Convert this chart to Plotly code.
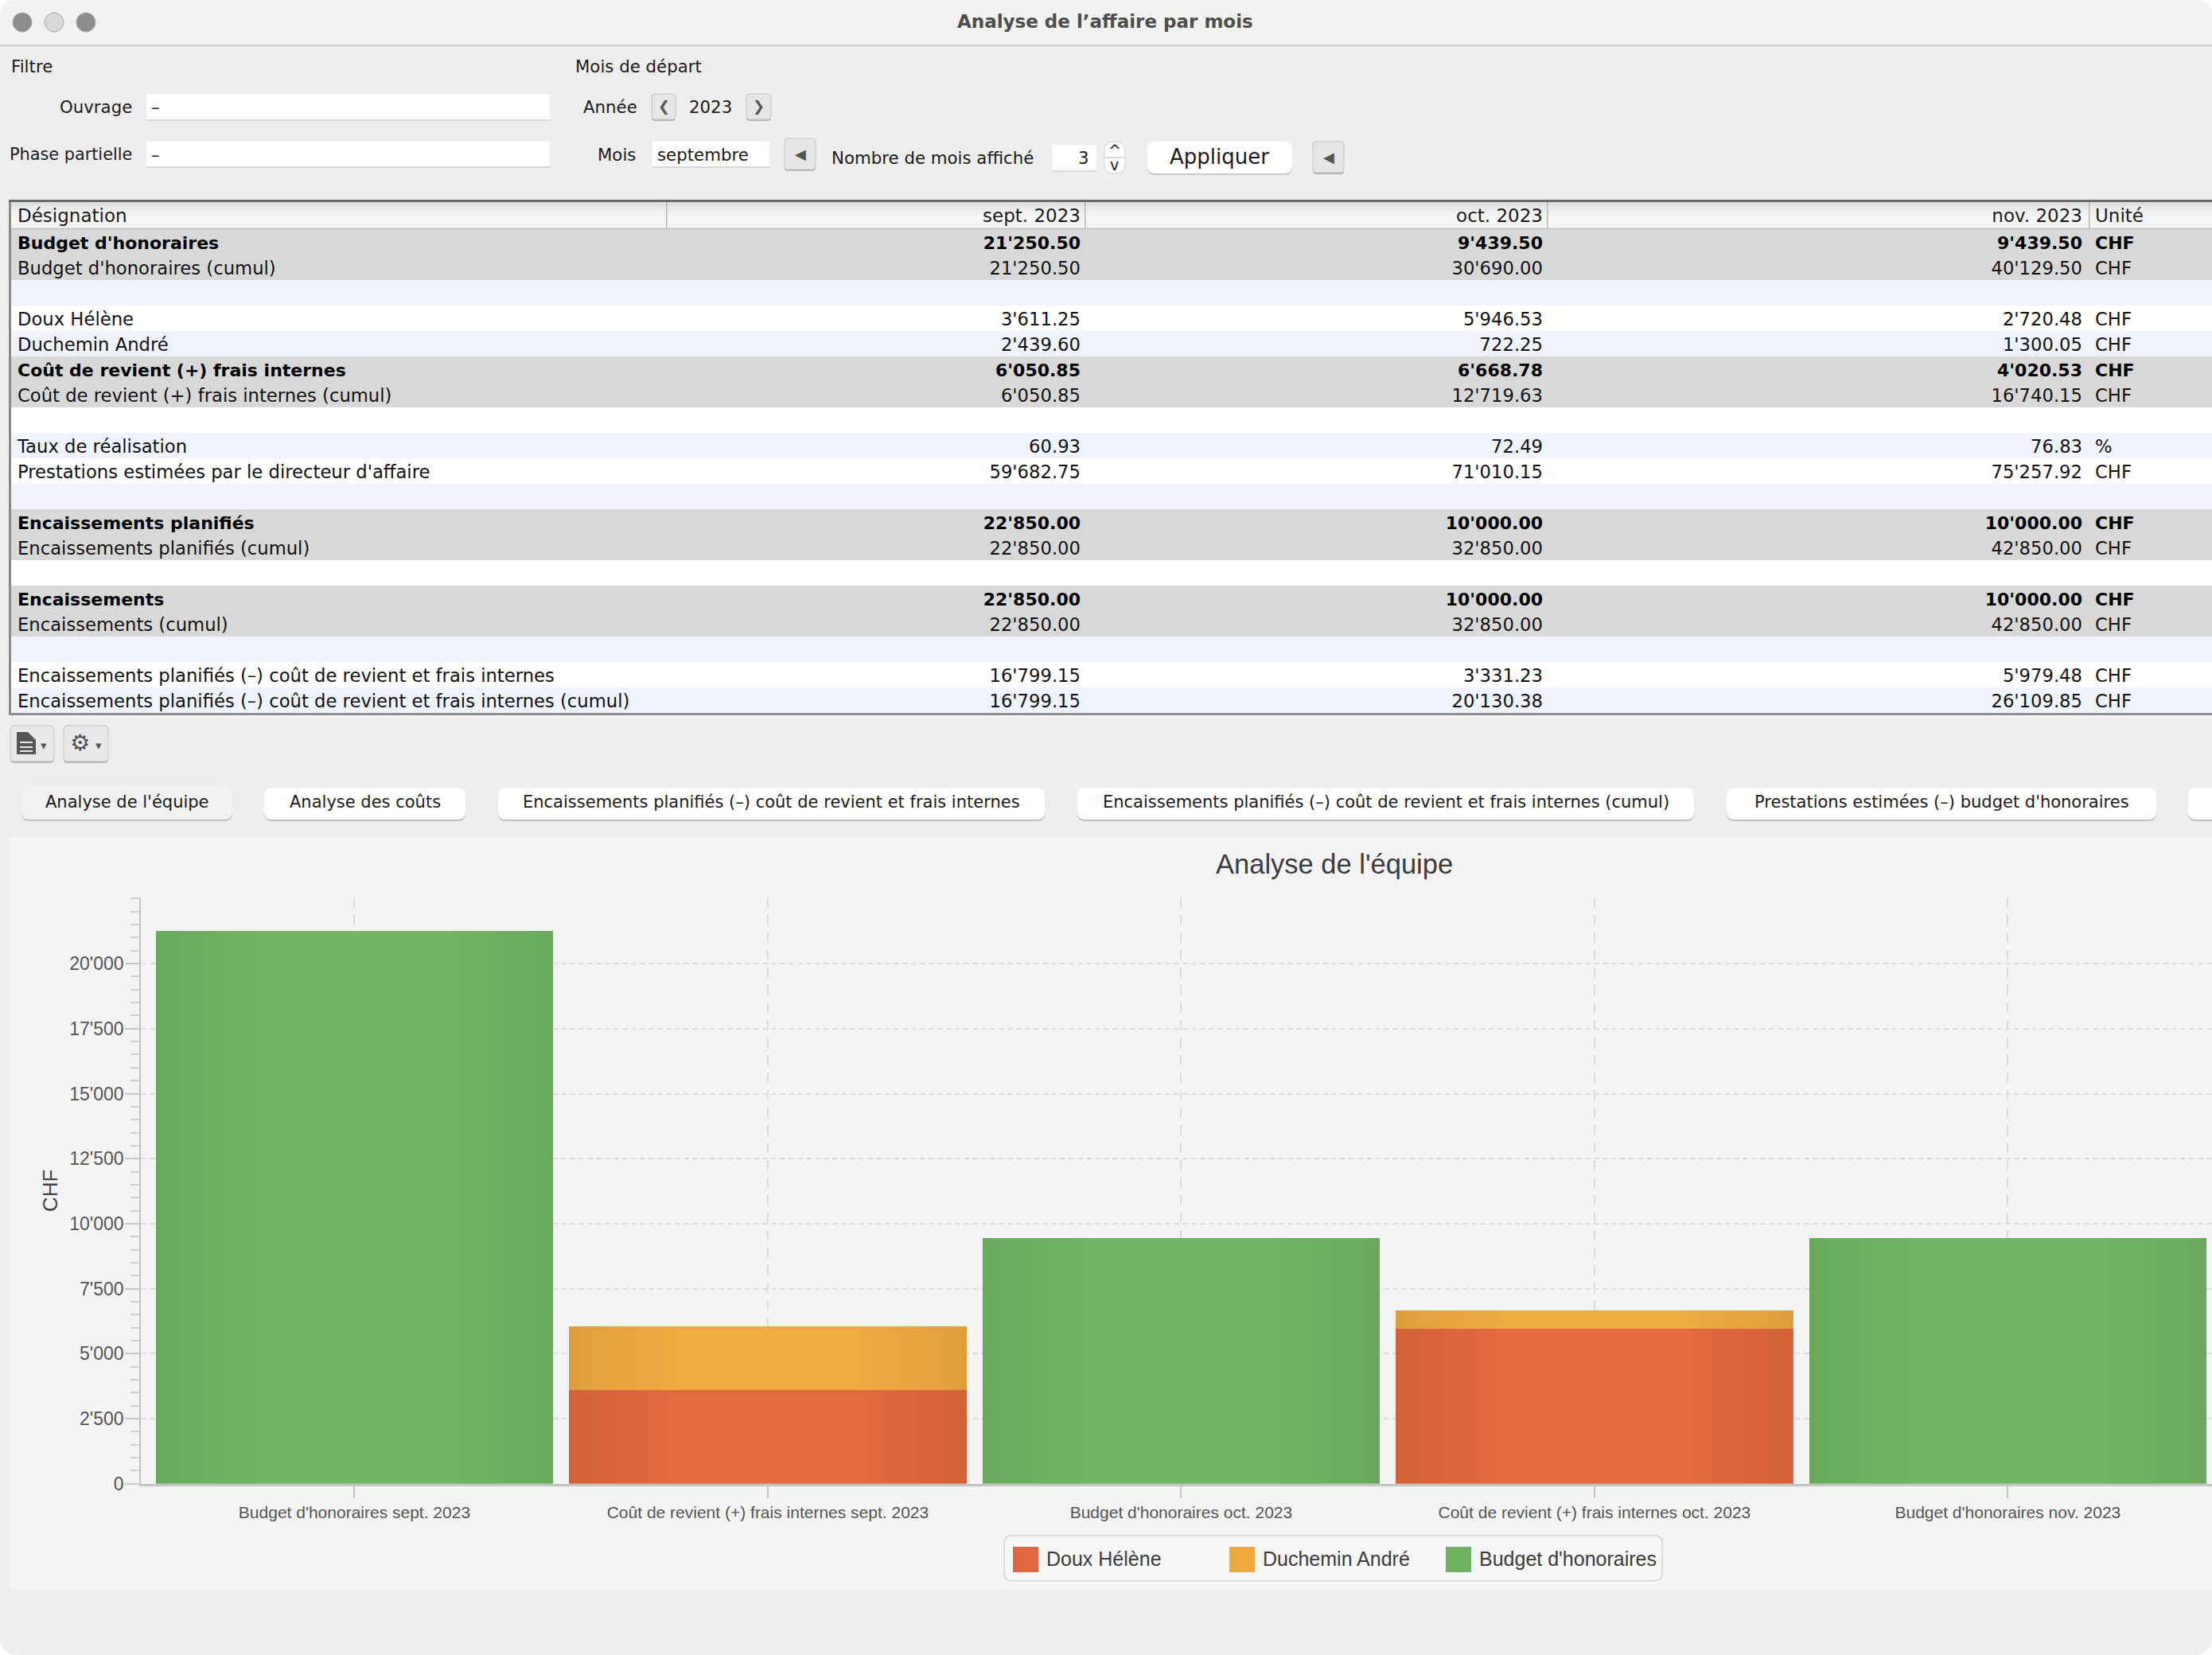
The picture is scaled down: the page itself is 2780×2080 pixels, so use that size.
import plotly.graph_objects as go

W = 2780
H = 2080

categories = ["Budget d'honoraires sept. 2023", "Coût de revient (+) frais internes sept. 2023",
              "Budget d'honoraires oct. 2023", "Coût de revient (+) frais internes oct. 2023",
              "Budget d'honoraires nov. 2023"]
doux = [None, 3611.25, None, 5946.53, None]
duchemin = [None, 2439.60, None, 722.25, None]
budget = [21250.50, None, 9439.50, None, 9439.50]
y_ticks = [0, 2500, 5000, 7500, 10000, 12500, 15000, 17500, 20000]
y_labels = ["0", "2'500", "5'000", "7'500", "10'000", "12'500", "15'000", "17'500", "20'000"]

table_head = ["Désignation", "sept. 2023", "oct. 2023", "nov. 2023", "Unité"]
designation = ["Budget d'honoraires", "Budget d'honoraires (cumul)", "",
               "Doux Hélène", "Duchemin André",
               "Coût de revient (+) frais internes", "Coût de revient (+) frais internes (cumul)", "",
               "Taux de réalisation", "Prestations estimées par le directeur d'affaire", "",
               "Encaissements planifiés", "Encaissements planifiés (cumul)", "",
               "Encaissements", "Encaissements (cumul)", "",
               "Encaissements planifiés (–) coût de revient et frais internes",
               "Encaissements planifiés (–) coût de revient et frais internes (cumul)"]
sept = ["21'250.50", "21'250.50", "", "3'611.25", "2'439.60", "6'050.85", "6'050.85", "",
        "60.93", "59'682.75", "", "22'850.00", "22'850.00", "", "22'850.00", "22'850.00", "",
        "16'799.15", "16'799.15"]
oct_ = ["9'439.50", "30'690.00", "", "5'946.53", "722.25", "6'668.78", "12'719.63", "",
        "72.49", "71'010.15", "", "10'000.00", "32'850.00", "", "10'000.00", "32'850.00", "",
        "3'331.23", "20'130.38"]
nov = ["9'439.50", "40'129.50", "", "2'720.48", "1'300.05", "4'020.53", "16'740.15", "",
       "76.83", "75'257.92", "", "10'000.00", "42'850.00", "", "10'000.00", "42'850.00", "",
       "5'979.48", "26'109.85"]
unite = ["CHF", "CHF", "", "CHF", "CHF", "CHF", "CHF", "", "%", "CHF", "",
         "CHF", "CHF", "", "CHF", "CHF", "", "CHF", "CHF"]
gray_rows = [0, 1, 5, 6, 11, 12, 14, 15]
bold_rows = [0, 5, 11, 14]

tabs = ["Analyse de l'équipe", "Analyse des coûts",
        "Encaissements planifiés (–) coût de revient et frais internes",
        "Encaissements planifiés (–) coût de revient et frais internes (cumul)",
        "Prestations estimées (–) budget d'honoraires", ""]
tab_x = [(27, 292), (332, 585), (626, 1313), (1354, 2129), (2170, 2710), (2750, 2800)]

UI = "DejaVu Sans"
CHART = "Liberation Sans"
shapes = []
notes = []


def rect(x0, y0, x1, y1, fill, line=None, lw=1):
    shapes.append(dict(type="rect", xref="paper", yref="paper", x0=x0 / W, x1=x1 / W, y0=1 - y0 / H, y1=1 - y1 / H,
                       fillcolor=fill, line=dict(color=line or fill, width=lw if line else 0), layer="below"))


def rounded(x0, y0, x1, y1, r, fill, line=None, lw=1):
    def px(x):
        return x / W
    def py(y):
        return 1 - y / H
    path = (f"M {px(x0 + r)} {py(y0)} L {px(x1 - r)} {py(y0)} Q {px(x1)} {py(y0)} {px(x1)} {py(y0 + r)} "
            f"L {px(x1)} {py(y1 - r)} Q {px(x1)} {py(y1)} {px(x1 - r)} {py(y1)} "
            f"L {px(x0 + r)} {py(y1)} Q {px(x0)} {py(y1)} {px(x0)} {py(y1 - r)} "
            f"L {px(x0)} {py(y0 + r)} Q {px(x0)} {py(y0)} {px(x0 + r)} {py(y0)} Z")
    shapes.append(dict(type="path", xref="paper", yref="paper", path=path, fillcolor=fill,
                       line=dict(color=line or fill, width=lw if line else 0), layer="below"))


def text(x, y, s, size=21.3, color="#1a1a1a", anchor="left", family=UI):
    notes.append(dict(x=x / W, y=1 - y / H, xref="paper", yref="paper", text=s, showarrow=False, xanchor=anchor,
                      yanchor="middle", align=anchor, borderpad=0, font=dict(family=family, size=size, color=color)))


def small_button(x0, y0, x1, y1, glyph):
    rounded(x0, y0 + 2, x1, y1 + 2, 4, "#b4b4b4")
    rounded(x0, y0, x1, y1, 4, "#e6e6e6", "#c4c4c4")
    text((x0 + x1) / 2, (y0 + y1) / 2, glyph, size=18, color="#555555", anchor="center")


# window
rounded(0, 0, W, 2080, 24, "#eeeeee")
rounded(0, 0, W, 56, 20, "#f2f2f0")
rect(0, 40, W, 56, "#f2f2f0")
rect(0, 56, W, 58, "#d2d2d2")
for cx, col in zip([28, 68, 108], ["#8e8e8e", "#d8d8d8", "#8e8e8e"]):
    shapes.append(dict(type="circle", xref="paper", yref="paper", x0=(cx - 12) / W, x1=(cx + 12) / W,
                       y0=1 - 40 / H, y1=1 - 16 / H, fillcolor=col, line=dict(color="#a8a8a8", width=1), layer="below"))
text(1389, 27, "<b>Analyse de l’affaire par mois</b>", size=23, color="#4d4d4d", anchor="center")

# filter block
text(13, 84, "Filtre")
text(722, 84, "Mois de départ")
text(167, 135, "Ouvrage", anchor="right")
text(167, 194, "Phase partielle", size=20.8, anchor="right")
for y0, y1 in [(118, 151), (178, 210)]:
    rect(184, y0, 691, y1 + 1, "#d8d8d8")
    rect(184, y0, 691, y1 - 1, "#ffffff")
    text(189, (y0 + y1) / 2, "–")
text(802, 135, "Année", anchor="right")
small_button(819, 118, 849, 150, "❮")
text(893, 135, "2023", anchor="center")
small_button(938, 118, 969, 150, "❯")
text(800, 194, "Mois", anchor="right")
rect(820, 178, 967, 211, "#d8d8d8")
rect(820, 178, 967, 209, "#ffffff")
text(825, 194, "septembre")
small_button(986, 174, 1025, 213, "◀")
text(1044, 198, "Nombre de mois affiché")
rect(1323, 182, 1378, 216, "#d8d8d8")
rect(1323, 182, 1378, 214, "#ffffff")
text(1370, 198, "3", anchor="right")
rounded(1388, 178, 1414, 218, 12, "#ffffff", "#d0d0d0")
rect(1389, 197, 1413, 199, "#d8d8d8")
text(1401, 189, "^", size=19, anchor="center")
text(1401, 207, "v", size=19, anchor="center")
rounded(1442, 180, 1624, 220, 10, "#c4c4c4")
rounded(1442, 178, 1624, 218, 10, "#ffffff")
text(1533, 197, "Appliquer", size=26, anchor="center")
small_button(1650, 178, 1689, 217, "◀")

# table frame and header
rect(11, 251, W, 254, "#6a6a6a")
rect(11, 254, 14, 898, "#8a8a8a")
head_cols = ["#e2e2e2", "#eaeaea", "#f0f0f0", "#f5f5f5", "#f7f7f7", "#f5f5f5", "#f1f1f1"]
for i, col in enumerate(head_cols):
    rect(14, 254 + i * 5, W, 259 + i * 5, col)
rect(14, 287, W, 290, "#b2b2b2")
for sx in [837, 1363, 1944, 2625]:
    rect(sx, 254, sx + 1.5, 288, "#b8b8b8")
rect(11, 896, W, 899, "#8f8f8f")
rect(11, 899, W, 901, "#fbfbfb")

# toolbar
for x0, x1 in [(13, 68), (80, 136)]:
    rounded(x0, 914, x1, 959, 5, "#b4b4b4")
    rounded(x0, 912, x1, 957, 5, "#e8e8e8", "#c4c4c4")
shapes.append(dict(type="path", xref="paper", yref="paper", layer="below", fillcolor="#555555", line=dict(width=0),
                   path=f"M {21 / W} {1 - 920 / H} L {35 / W} {1 - 920 / H} L {45 / W} {1 - 930 / H} "
                        f"L {45 / W} {1 - 948 / H} L {21 / W} {1 - 948 / H} Z"))
for ly in [932, 938, 943]:
    rect(25, ly, 41, ly + 2, "#e8e8e8")
text(55, 937, "▾", size=15, color="#555555", anchor="center")
text(100, 934, "<b>⚙</b>", size=28, color="#505050", anchor="center")
text(124, 937, "▾", size=15, color="#555555", anchor="center")

# tab buttons
for i, (label, (x0, x1)) in enumerate(zip(tabs, tab_x)):
    rounded(x0, 992, x1, 1032, 10, "#c0c0c0")
    rounded(x0, 990, x1, 1030, 10, "#f1f1f1" if i == 0 else "#ffffff")
    if label:
        text((x0 + x1) / 2, 1008, label, size=21, anchor="center")

# chart panel
rect(12, 1052, W, 1998, "#f4f4f4")
text(1677, 1086, "Analyse de l'équipe", size=34.5, color="#3c3c3c", anchor="center", family=CHART)

# legend
rounded(1262, 1932, 2089, 1990, 10, "#fbfbfb")
rounded(1262, 1930, 2089, 1987, 10, "#f6f6f6", "#dcdcdc", 2)
for sx, tx, col, lab in [(1273, 1314, "#e0673f", "Doux Hélène"), (1545, 1586, "#eda93f", "Duchemin André"),
                         (1817, 1858, "#6eb262", "Budget d'honoraires")]:
    rect(sx, 1944, sx + 32, 1976, col)
    text(tx, 1959, lab, size=25, color="#3c3c3c", family=CHART)

fig = go.Figure()
fig.add_trace(go.Bar(x=categories, y=doux, name="Doux Hélène", marker=dict(color="#e3693f", line=dict(width=0))))
fig.add_trace(go.Bar(x=categories, y=duchemin, name="Duchemin André", marker=dict(color="#efaa41", line=dict(width=0))))
fig.add_trace(go.Bar(x=categories, y=budget, name="Budget d'honoraires", marker=dict(color="#71b664", line=dict(width=0))))

# bars are a bit darker towards their edges
for i, cat in enumerate(categories):
    total = sum(v[i] for v in (doux, duchemin, budget) if v[i] is not None)
    for k in range(20):
        alpha = 0.065 * (1 - k / 20)
        for a, b in [(-0.4808 + k * 0.0125, -0.4808 + (k + 1) * 0.0125),
                     (0.4808 - (k + 1) * 0.0125, 0.4808 - k * 0.0125)]:
            shapes.append(dict(type="rect", xref="x", yref="y", x0=cat, x1=cat, x0shift=a, x1shift=b, y0=0, y1=total,
                               fillcolor=f"rgba(0,0,0,{alpha:.3f})", line=dict(width=0), layer="above"))

row_fill = []
for i in range(len(designation)):
    if i in gray_rows:
        row_fill.append("#d8d8d8")
    elif i % 2 == 0:
        row_fill.append("#eef3fc")
    else:
        row_fill.append("#ffffff")

columns = [designation, sept, oct_, nov, unite]
plain = [[v if i not in bold_rows else "" for i, v in enumerate(col)] for col in columns]
bold = [[v if i in bold_rows else "" for i, v in enumerate(col)] for col in columns]
aligns = ["left", "right", "right", "right", "left"]
table_domain = dict(x=[14 / W, 1], y=[1 - 896 / H, 1 - 254 / H])
col_widths = [826, 526, 581, 678, 155]

fig.add_trace(go.Table(
    domain=table_domain, columnwidth=col_widths,
    header=dict(values=table_head, align=aligns, height=34, fill_color="rgba(0,0,0,0)", line=dict(width=0),
                font=dict(family=UI, size=23, color="#1a1a1a")),
    cells=dict(values=plain, align=aligns, height=32, fill_color=[row_fill] * 5, line=dict(width=0),
               font=dict(family=UI, size=22.7, color="#111111")),
))
# second table on top for the bold rows, font weight can only be set per column
fig.add_trace(go.Table(
    domain=table_domain, columnwidth=col_widths,
    header=dict(values=[""] * 5, height=34, fill_color="rgba(0,0,0,0)", line=dict(width=0)),
    cells=dict(values=bold, align=aligns, height=32, fill_color="rgba(0,0,0,0)", line=dict(width=0),
               font=dict(family=UI, size=22, color="#000000", weight="bold")),
))

fig.update_layout(
    width=W, height=H, margin=dict(l=0, r=0, t=0, b=0, autoexpand=False), paper_bgcolor="#ffffff",
    plot_bgcolor="rgba(0,0,0,0)", barmode="stack", bargap=0.0385, showlegend=False, shapes=shapes, annotations=notes,
    font=dict(family=CHART, size=23, color="#555555"),
    xaxis=dict(domain=[177 / W, 1], range=[-0.5168, 4.494], type="category", categoryorder="array",
               categoryarray=categories, showgrid=True, griddash="13px,9px", gridcolor="#dcdcdc", gridwidth=1.5,
               ticks="outside", ticklen=15, tickcolor="#c4c4c4", tickwidth=1.5, showline=True, linecolor="#c4c4c4",
               linewidth=3, zeroline=False, fixedrange=True, ticklabelstandoff=0,
               tickfont=dict(family=CHART, size=21, color="#555555")),
    yaxis=dict(domain=[1 - 1864.7 / H, 1 - 1128 / H], range=[0, 22543], tickvals=y_ticks, ticktext=y_labels,
               showgrid=True, griddash="7px,4px", gridcolor="#dedede", gridwidth=1.5, ticks="outside", ticklen=18,
               tickcolor="#c8c8c8", tickwidth=2, showline=True, linecolor="#c4c4c4", linewidth=1.5, zeroline=False,
               ticklabelstandoff=-3,
               minor=dict(dtick=500, ticks="outside", ticklen=11, tickcolor="#cfcfcf", tickwidth=2, showgrid=False),
               title=dict(text="CHF", standoff=7, font=dict(family=CHART, size=26, color="#444444")),
               tickfont=dict(family=CHART, size=23, color="#555555")),
)

fig.write_html("out.html", config=dict(displayModeBar=False), post_script="document.body.style.margin='0';")
